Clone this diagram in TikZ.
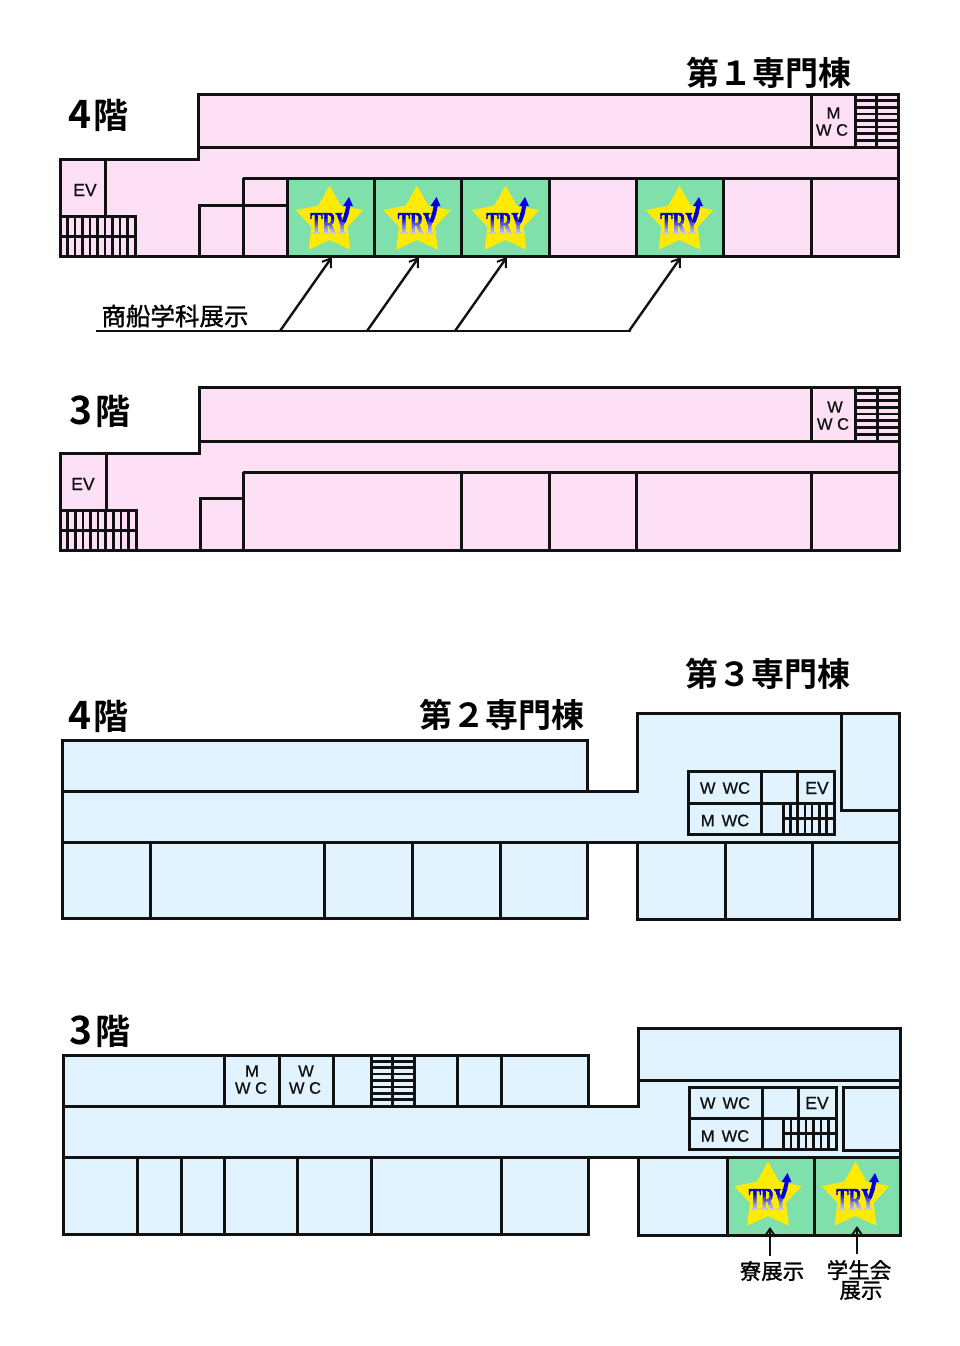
\documentclass[tikz,border=0pt]{standalone}
\usepackage{fontspec}
\usetikzlibrary{arrows.meta}
\setmainfont[FakeBold=0.8]{Liberation Sans}
\newfontfamily\cjk[BoldFont={* Bold}]{Noto Sans CJK JP}
\newfontfamily\cjkmid[FakeBold=1.2]{Noto Sans CJK JP}
\newfontfamily\logofont[FakeBold=1.2]{Liberation Serif Bold}
\definecolor{pinkroom}{HTML}{FEE0F6}
\definecolor{blueroom}{HTML}{E1F3FE}
\definecolor{greenroom}{HTML}{80E0AC}
\definecolor{staryellow}{HTML}{FFEB00}
\definecolor{inkline}{HTML}{111111}
\definecolor{trybl}{HTML}{0000E0}
\tikzset{
  wall/.style={draw=inkline,line width=3pt,line join=miter},
  fine/.style={draw=inkline,line width=2.6pt},
  shown/.style={draw=inkline,line width=2.4pt,-{Straight Barb[length=8pt,width=11pt,line width=2pt]}},
  heading/.style={inner sep=0pt,text=black,font=\cjk\bfseries\fontsize{33}{36}\selectfont},
  floorlabel/.style={inner sep=0pt,text=black,font=\cjk\bfseries\fontsize{35}{38}\selectfont},
  note/.style={inner sep=0pt,text=black,font=\cjkmid\fontsize{21.5}{24}\selectfont},
  roomtag/.style={inner sep=0pt,text=inkline,font=\fontsize{16.5}{19}\selectfont},
  evtag/.style={inner sep=0pt,text=inkline,font=\fontsize{17.5}{21}\selectfont},
}
\newcommand{\floortext}[1]{{\fontsize{39}{38}\selectfont #1}\hspace{2.5pt}階}
% logo: star centre at #1,#2
\newcommand{\trylogo}[2]{%
  \begin{scope}[shift={(#1,#2)}]
    \fill[staryellow,yscale=-1] (90:35.5)--(126:19)--(162:35.5)--(198:19)--(234:35.5)--(270:19)--(306:35.5)--(342:19)--(18:35.5)--(54:19)--cycle;
    \foreach \k in {0,...,10}{%
      \pgfmathsetmacro{\mixv}{\k<4?100:100-(\k-3)*11}
      \begin{scope}
        \clip (-25,{-9.5+\k*2.05}) rectangle (25,{-9.5+\k*2.05+2.15});
        \node[inner sep=0pt,transform shape,xscale=.58,text=trybl!\mixv!white,font=\logofont\fontsize{32}{32}\selectfont] at (0,2.5) {TRY};
      \end{scope}}
    \draw[trybl,line width=4pt] (14,1) .. controls (16,-3) and (17.5,-8) .. (19,-17);
    \fill[trybl] (13.5,-15) -- (19.5,-24) -- (23.5,-15) -- cycle;
  \end{scope}}
% vertical-bar stairs: x0,x1,y0,y1,n
\newcommand{\vstairs}[5]{%
  \draw[wall] (#1,#3) rectangle (#2,#4);
  \draw[wall] (#1,{(#3+#4)/2}) -- (#2,{(#3+#4)/2});
  \foreach \k in {1,...,#5}{\draw[fine] ({#1+(#2-#1)*\k/#5},#3) -- ({#1+(#2-#1)*\k/#5},#4);}}
% horizontal-bar stairs
\newcommand{\hstairs}[5]{%
  \draw[wall] (#1,#3) rectangle (#2,#4);
  \draw[wall] ({(#1+#2)/2},#3) -- ({(#1+#2)/2},#4);
  \foreach \k in {1,...,#5}{\draw[fine] (#1,{#3+(#4-#3)*\k/#5}) -- (#2,{#3+(#4-#3)*\k/#5});}}
\begin{document}
\begin{tikzpicture}[x=1pt,y=-1pt]
\useasboundingbox (0,0) rectangle (960,1346);

% ---------- First building, 4F
\path[fill=pinkroom] (198,94)--(898,94)--(898,256)--(60,256)--(60,159)--(198,159)--cycle;
\foreach \a/\b in {287/374,374/461,461/549,636/723}{\fill[greenroom] (\a,178) rectangle (\b,256);}
\draw[wall] (198,94)--(898,94)--(898,256)--(60,256)--(60,159)--(198,159)--cycle;
\draw[wall] (198,147)--(898,147);
\draw[wall] (243,178)--(898,178);
\draw[wall] (811,94)--(811,147);
\hstairs{855}{898}{94}{147}{8}
\draw[wall] (105,159)--(105,216);
\vstairs{60}{135}{216}{256}{10}
\draw[wall] (199.5,256)--(199.5,205)--(287,205);
\foreach \a in {243,287,374,461,549,636,723,811}{\draw[wall] (\a,178)--(\a,256);}
\trylogo{329.5}{221}\trylogo{417}{221}\trylogo{505.5}{221}\trylogo{679.5}{221}
\node[heading,anchor=center] (t1) at (769,73) {第１専門棟};
\node[floorlabel] (f4a) at (98.5,115) {\floortext{4}};
\node[evtag] (eva) at (85,190) {EV};
\node[roomtag] (ma) at (833.5,113) {M};
\node[roomtag] (wca) at (832,130) {W C};
\node[note,font=\cjkmid\fontsize{24.5}{26}\selectfont] (ship) at (175,316) {商船学科展示};
\coordinate (barL) at (96,331);\coordinate (barR) at (631,331);
\draw[line width=2.6pt,draw=inkline] (barL)--(barR);
\foreach \s/\e in {280/332,367/419,455/507,629/681}{
  \coordinate (from\s) at (\s,331);\coordinate (to\s) at (\e,257);
  \draw[shown] (from\s)--(to\s);}

% ---------- First building, 3F
\path[fill=pinkroom] (199,387)--(899,387)--(899,550)--(60,550)--(60,453)--(199,453)--cycle;
\draw[wall] (199,387)--(899,387)--(899,550)--(60,550)--(60,453)--(199,453)--cycle;
\draw[wall] (199,441)--(899,441);
\draw[wall] (243,472)--(899,472);
\draw[wall] (811.5,387)--(811.5,441);
\hstairs{855.5}{899}{387}{441}{8}
\draw[wall] (106,453)--(106,510);
\vstairs{60}{136}{510}{550}{10}
\draw[wall] (200.5,550)--(200.5,498)--(243,498);
\foreach \a in {243,461,549,636,811.5}{\draw[wall] (\a,472)--(\a,550);}
\node[floorlabel] (f3a) at (100,411) {\floortext{3}};
\node[evtag] (evb) at (83,484) {EV};
\node[roomtag] (wb) at (835,407) {W};
\node[roomtag] (wcb) at (833,424) {W C};

% ---------- Second/third building, 4F
\path[fill=blueroom] (62,740)--(587,740)--(587,791)--(637,791)--(637,713)--(899,713)--(899,919)--(637,919)--(637,842)--(587,842)--(587,918)--(62,918)--cycle;
\draw[wall] (62,740)--(587,740)--(587,791)--(637,791)--(637,713)--(899,713)--(899,919)--(637,919)--(637,842)--(587,842)--(587,918)--(62,918)--cycle;
\draw[wall] (62,791)--(587,791);
\draw[wall] (62,842)--(899,842);
\foreach \a in {150,324,412,500}{\draw[wall] (\a,842)--(\a,918);}
\foreach \a in {725,812}{\draw[wall] (\a,842)--(\a,919);}
\draw[wall] (841,713)--(841,810)--(899,810);
\draw[wall] (688,771) rectangle (834,834);
\draw[wall] (688,803)--(834,803);
\draw[wall] (761,771)--(761,834);
\draw[wall] (797,771)--(797,803);
\vstairs{783}{834}{803}{834}{7}
\draw[wall] (688,771) rectangle (834,834);
\node[heading] (t3) at (768,674) {第３専門棟};
\node[heading] (t2) at (501.5,715) {第２専門棟};
\node[floorlabel] (f4b) at (98.5,716) {\floortext{4}};
\node[roomtag] (wwa) at (725,788) {W\hspace{7pt}WC};
\node[roomtag] (mwa) at (725,820.5) {M\hspace{7pt}WC};
\node[evtag] (evc) at (817,788) {EV};

% ---------- Second/third building, 3F
\path[fill=blueroom] (63,1055)--(588,1055)--(588,1106)--(638,1106)--(638,1028)--(900,1028)--(900,1235)--(638,1235)--(638,1157)--(588,1157)--(588,1234)--(63,1234)--cycle;
\foreach \a/\b in {727/814,814/900}{\fill[greenroom] (\a,1157) rectangle (\b,1235);}
\draw[wall] (63,1055)--(588,1055)--(588,1106)--(638,1106)--(638,1028)--(900,1028)--(900,1235)--(638,1235)--(638,1157)--(588,1157)--(588,1234)--(63,1234)--cycle;
\draw[wall] (63,1106)--(588,1106);
\draw[wall] (638,1080.5)--(900,1080.5);
\draw[wall] (63,1157)--(900,1157);
\foreach \a in {224,279,333,457,501}{\draw[wall] (\a,1055)--(\a,1106);}
\hstairs{371}{414}{1055}{1106}{8}
\foreach \a in {137,181,224,297,371,501}{\draw[wall] (\a,1157)--(\a,1234);}
\foreach \a in {727,814}{\draw[wall] (\a,1157)--(\a,1235);}
\draw[wall] (900,1087)--(843,1087)--(843,1150)--(900,1150);
\draw[wall] (689,1118)--(836,1118);
\draw[wall] (762,1087)--(762,1149.5);
\draw[wall] (798,1087)--(798,1118);
\vstairs{783.5}{836}{1118}{1149.5}{7}
\draw[wall] (689,1087) rectangle (836,1149.5);
\trylogo{768}{1197}\trylogo{855.5}{1197}
\node[floorlabel] (f3b) at (100,1031) {\floortext{3}};
\node[roomtag] (mc) at (252,1071) {M};
\node[roomtag] (wcc) at (251,1088) {W C};
\node[roomtag] (wd) at (306,1071) {W};
\node[roomtag] (wcd) at (305,1088) {W C};
\node[roomtag] (wwb) at (725,1103) {W\hspace{7pt}WC};
\node[roomtag] (mwb) at (725,1136) {M\hspace{7pt}WC};
\node[evtag] (evd) at (817,1103) {EV};
\node[note] (dorm) at (772,1271) {寮展示};
\node[note] (sca) at (859,1270) {学生会};
\node[note] (scb) at (861,1290.5) {展示};
\coordinate (dormfrom) at (770,1256);\coordinate (dormto) at (770,1227);
\coordinate (scfrom) at (857,1254);\coordinate (scto) at (857,1226);
\draw[shown] (dormfrom)--(dormto);
\draw[shown] (scfrom)--(scto);
\end{tikzpicture}
\end{document}
